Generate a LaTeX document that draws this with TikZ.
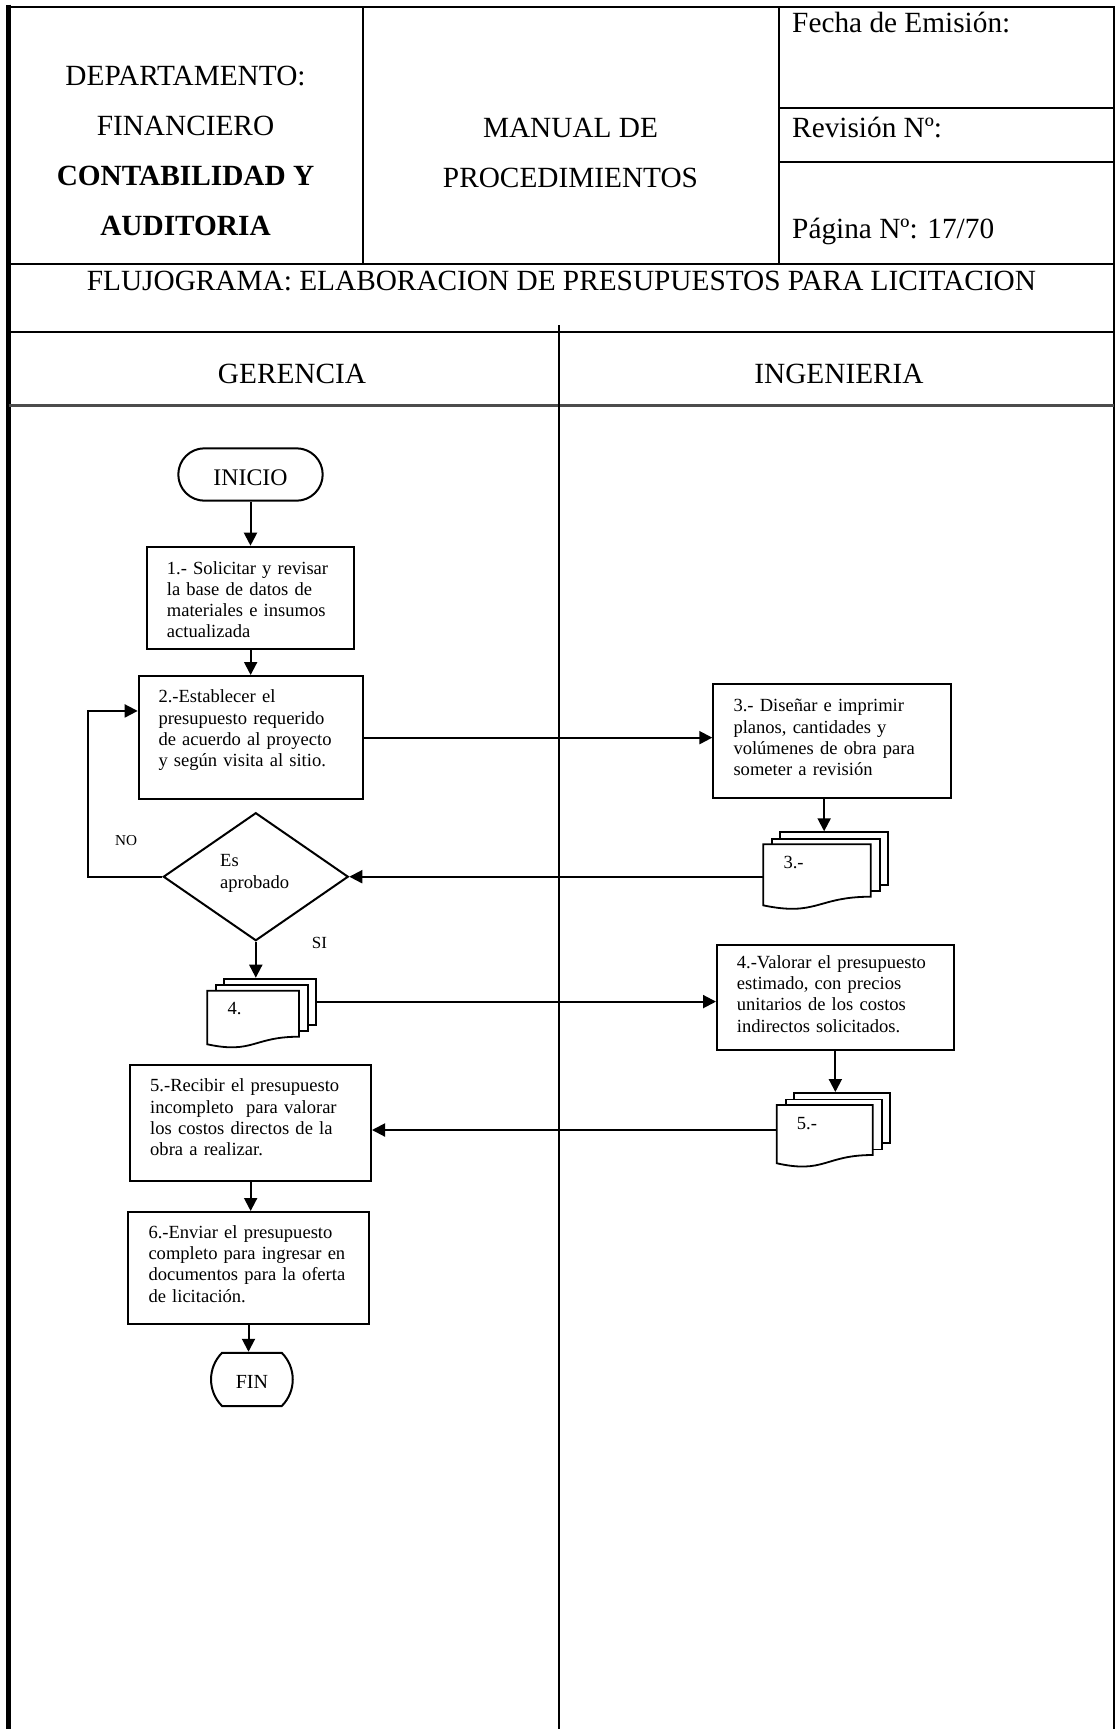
\documentclass[tikz,border=0pt]{standalone}
\usepackage{fontspec}
\setmainfont{Liberation Serif}
\usetikzlibrary{arrows.meta,shapes.geometric,shapes.misc,calc}

\newcommand{\multidoc}[6]{% name, x, y, w, h, label
  \node[backpage, minimum width=#4, minimum height=#5, anchor=north west] (#1c) at ($(#2,#3)+(16,-13)$) {};
  \node[backpage, minimum width=#4, minimum height=#5, anchor=north west] (#1b) at ($(#2,#3)+(8,-6.5)$) {};
  \node[inner sep=0pt, outer sep=0pt, minimum width=#4, minimum height=#5, anchor=north west] (#1) at (#2,#3) {};
  \draw[frontpage] (#1.north west) -- (#1.north east) -- (#1.south east)
     .. controls (#1.south) and ($(#1.south)+(0,0.38*#5)$) .. ($(#1.south west)+(0,0.165*#5)$) -- cycle;
  \node[smalltxt, anchor=base west] (#1t) at ($(#1.north west)+(20,24)$) {#6};
}

\begin{document}
\begin{tikzpicture}[x=1pt,y=-1pt,
  rule/.style={line width=2.2pt},
  box/.style={draw, line width=2pt, rectangle, inner sep=0pt, anchor=north west},
  btxt/.style={font=\fontsize{18.55}{21.3}\selectfont, align=left, text width=235pt, inner sep=0pt, anchor=base west},
  backpage/.style={draw, fill=white, line width=1.8pt, inner sep=0pt},
  frontpage/.style={draw, fill=white, line width=1.8pt},
  smalltxt/.style={font=\fontsize{18.55}{21.3}\selectfont, inner sep=0pt},
  hdr/.style={font=\fontsize{29.3}{35}\selectfont, inner sep=0pt, anchor=base},
  hdrb/.style={font=\fontsize{29.3}{35}\selectfont\bfseries, inner sep=0pt, anchor=base},
  arr/.style={line width=2pt, -{Triangle[length=13pt,width=13pt]}},
  term/.style={draw, line width=2pt, rounded rectangle, inner sep=0pt}
]
\useasboundingbox (0,0) rectangle (1117,1729);

% ---------- table frame ----------
\draw[line width=5pt] (8.5,4.5) -- (8.5,1729);
\draw[rule] (6,6.7) -- (1115,6.7);
\draw[rule] (1114,6.7) -- (1114,1729);
\draw[rule] (363,6.7) -- (363,264.3);
\draw[rule] (778.6,6.7) -- (778.6,264.3);
\draw[rule] (778.6,108.3) -- (1114,108.3);
\draw[rule] (778.6,162.3) -- (1114,162.3);
\draw[rule] (8.5,264.3) -- (1114,264.3);
\draw[rule] (8.5,331.7) -- (1114,331.7);
\draw[line width=3pt, black!70] (8.5,405) -- (1114,405);
\draw[rule] (559,325) -- (559,1729);

% ---------- header texts ----------
\node[hdr] (dep) at (185.5,85) {DEPARTAMENTO:};
\node[hdr] (fina) at (185.5,135) {FINANCIERO};
\node[hdrb] (cont) at (185.5,185) {CONTABILIDAD Y};
\node[hdrb] (aud) at (185.5,235) {AUDITORIA};
\node[hdr] (man) at (570.5,137) {MANUAL DE};
\node[hdr] (proc) at (570.5,187) {PROCEDIMIENTOS};
\node[hdr, anchor=base west] (fecha) at (792,32) {Fecha de Emisión:};
\node[hdr, anchor=base west] (rev) at (792,137) {Revisión Nº:};
\node[hdr, anchor=base west] (pag) at (792,238) {Página Nº: 17/70};
\node[hdr] (flujo) at (561.5,290) {FLUJOGRAMA: ELABORACION DE PRESUPUESTOS PARA LICITACION};
\node[hdr] (ger) at (292,383) {GERENCIA};
\node[hdr] (ing) at (839,383) {INGENIERIA};

% ---------- flow nodes ----------
\node[term, minimum width=144.4, minimum height=52.4, text height=22pt, text depth=0pt, font=\fontsize{23.8}{28}\selectfont] (ini) at (250.5,474.5) {INICIO};

\node[box, minimum width=207.3, minimum height=102.6] (b1) at (146,545.7) {};
\node[btxt] (b1t) at (166.7,574) {1.- Solicitar y revisar\\la base de datos de\\materiales e insumos\\actualizada};

\node[box, minimum width=224.6, minimum height=123.3] (b2) at (137.7,675) {};
\node[btxt] (b2t) at (158.3,702.7) {2.-Establecer el\\presupuesto requerido\\de acuerdo al proyecto\\y según visita al sitio.};

\node[box, minimum width=237.7, minimum height=114] (b3) at (712.3,683.3) {};
\node[btxt] (b3t) at (733.3,711.7) {3.- Diseñar e imprimir\\planos, cantidades y\\volúmenes de obra para\\someter a revisión};

\multidoc{d3}{763.3}{844.3}{107.4}{52.4}{3.-}

\node[draw, diamond, line width=2pt, minimum width=185, minimum height=128, inner sep=0pt] (dia) at (255.8,876.7) {};
\node[btxt] (diat) at (220,866.7) {Es\\aprobado};
\node[font=\fontsize{15.2}{18}\selectfont, inner sep=0pt, anchor=base west] (no) at (115,845) {NO};
\node[font=\fontsize{17}{20}\selectfont, inner sep=0pt, anchor=base west] (si) at (311.7,948.3) {SI};

\multidoc{d4}{207.3}{990.7}{91.7}{46}{4.}

\node[box, minimum width=236.7, minimum height=105] (b4) at (716,944) {};
\node[btxt] (b4t) at (736.7,968.3) {4.-Valorar el presupuesto\\estimado, con precios\\unitarios de los costos\\indirectos solicitados.};

\multidoc{d5}{776.7}{1105}{96}{50}{5.-}

\node[box, minimum width=240.7, minimum height=116] (b5) at (129.3,1064) {};
\node[btxt] (b5t) at (150,1091.7) {5.-Recibir el presupuesto\\incompleto~ para valorar\\los costos directos de la\\obra a realizar.};

\node[box, minimum width=240.4, minimum height=111.7] (b6) at (127.3,1211) {};
\node[btxt] (b6t) at (148.3,1238.3) {6.-Enviar el presupuesto\\completo para ingresar en\\documentos para la oferta\\de licitación.};

\node[term, rounded rectangle arc length=90, minimum width=81.7, minimum height=53.3, text height=17.2pt, text depth=0pt, font=\fontsize{20}{24}\selectfont] (fin) at (251.9,1379.4) {FIN};

% ---------- connectors ----------
\draw[arr] (ini.south) -- (ini.south |- b1.north);
\draw[arr] (b1.south) -- (b1.south |- b2.north);
\draw[arr] (b2.east) -- (b2.east -| b3.west);
\draw[arr] ([xshift=-8pt]b3.south) -- ([xshift=-8pt]b3.south |- d3c.north);
\draw[arr] (d3.west |- dia.east) -- (dia.east);
\coordinate (lx) at (88.3,876.7);
\coordinate (b2in) at ([yshift=26.7pt]b2.west);
\draw[arr] (dia.west) -- (lx) -- (lx |- b2in) -- (b2in);
\draw[arr] (dia.south) -- (dia.south |- d4c.north);
\draw[arr] (d4c.east) -- (d4c.east -| b4.west);
\draw[arr] (b4.south) -- (b4.south |- d5c.north);
\draw[arr] (d5.west) -- (d5.west -| b5.east);
\draw[arr] (b5.south) -- (b5.south |- b6.north);
\draw[arr] (b6.south) -- (b6.south |- fin.north);
\end{tikzpicture}
\end{document}
